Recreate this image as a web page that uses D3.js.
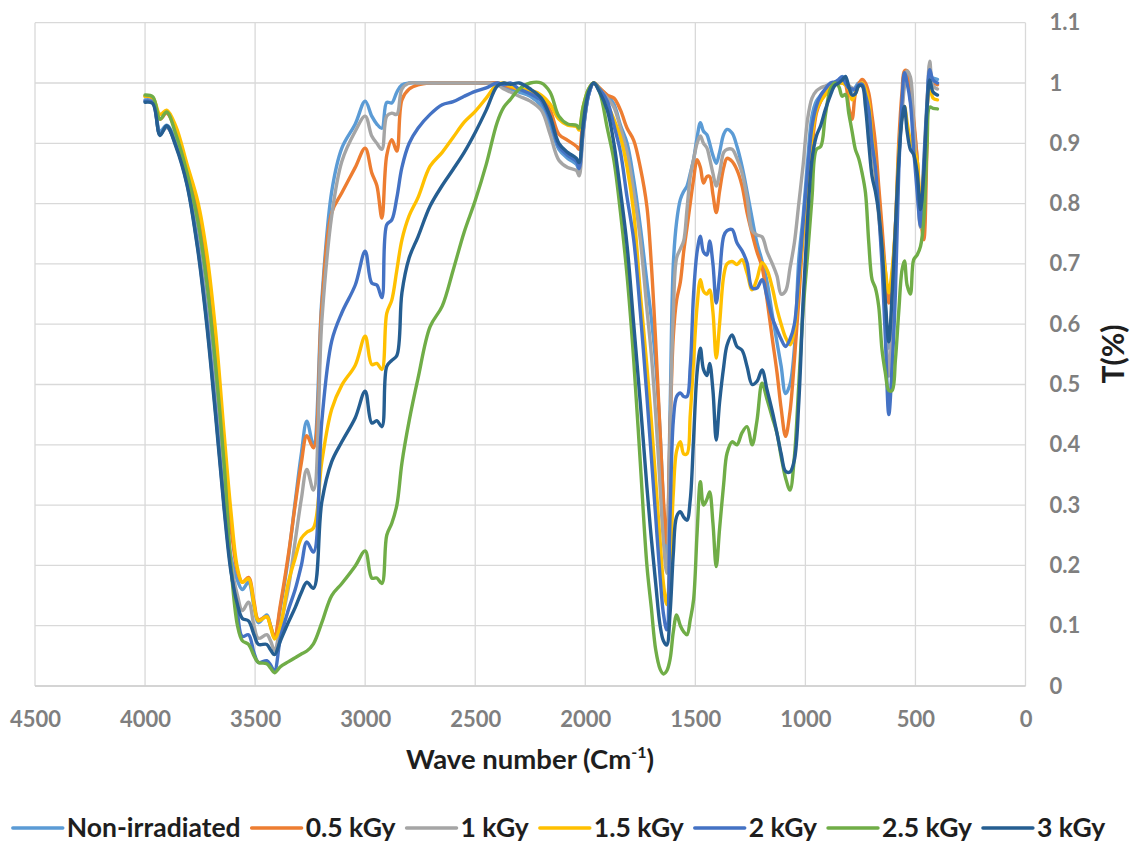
<!DOCTYPE html>
<html>
<head>
<meta charset="utf-8">
<script src="https://cdn.jsdelivr.net/npm/d3@7"></script>
<style>
  body { margin: 0; background: #fff; }
  svg text { font-family: Lato, "Open Sans", sans-serif; font-weight: 700; }
</style>
</head>
<body>
<svg id="chart" width="1130" height="846"></svg>
<script>
const waveNumbers = [
  4000, 3965, 3932, 3902, 3860, 3810, 3760, 3720, 3680, 3640, 3610, 3580, 3558, 3530, 3505,
  3485, 3447, 3430, 3412, 3385, 3350, 3318, 3290, 3265, 3235, 3197, 3152, 3106, 3045, 3000,
  2970, 2947, 2924, 2902, 2879, 2856, 2833, 2800, 2760, 2705, 2650, 2600, 2550, 2500, 2450,
  2400, 2370, 2340, 2300, 2250, 2200, 2160, 2120, 2080, 2040, 2028, 2010, 1985, 1962,
  1935, 1900, 1870, 1840, 1810, 1780, 1750, 1720, 1700, 1680,
  1660, 1645, 1630, 1615, 1600, 1585, 1568, 1553, 1538, 1523,
  1508, 1492, 1477, 1463, 1447, 1435, 1420, 1405, 1390, 1371,
  1356, 1333, 1311, 1288, 1265, 1242, 1220, 1197, 1174, 1150,
  1129, 1110, 1090, 1070, 1050, 1030, 1010, 990, 970, 950,
  930, 910, 886, 866, 848, 833, 818, 803, 788, 773,
  758, 742, 727, 712, 697, 682, 667, 652, 637, 621,
  606, 591, 576, 561, 550, 538, 523, 508, 492, 477,
  462, 447, 435, 420, 400
]

const nonIrradiated = [
  0.972, 0.97, 0.92, 0.93, 0.903, 0.84, 0.742, 0.63, 0.485, 0.321, 0.215, 0.175, 0.16, 0.172, 0.132,
  0.105, 0.118, 0.1, 0.08, 0.13, 0.21, 0.305, 0.385, 0.439, 0.4, 0.64, 0.82, 0.892, 0.932, 0.97,
  0.945, 0.932, 0.925, 0.968, 0.967, 0.985, 0.997, 1, 1, 1, 1, 1, 1, 1, 1,
  1, 0.995, 0.99, 0.985, 0.978, 0.962, 0.93, 0.89, 0.875, 0.865, 0.855, 0.92, 0.98, 1,
  0.99, 0.98, 0.965, 0.93, 0.9, 0.84, 0.762, 0.67, 0.61, 0.535,
  0.42, 0.3, 0.21, 0.45, 0.7, 0.77, 0.807, 0.82, 0.829, 0.85,
  0.873, 0.91, 0.934, 0.92, 0.914, 0.9, 0.88, 0.867, 0.885, 0.915,
  0.923, 0.917, 0.895, 0.862, 0.82, 0.775, 0.735, 0.705, 0.67, 0.615,
  0.57, 0.53, 0.485, 0.5, 0.56, 0.707, 0.78, 0.87, 0.945, 0.97,
  0.98, 0.988, 0.995, 1, 1.005, 1.011, 1.005, 0.995, 0.986, 0.993,
  1, 0.998, 0.98, 0.95, 0.92, 0.87, 0.8, 0.73, 0.63, 0.56,
  0.6, 0.72, 0.873, 0.96, 1, 1.01, 0.972, 0.93, 0.873, 0.78,
  0.8, 0.956, 1.011, 1.008, 1.006
]

const dose05 = [
  0.978, 0.975, 0.94, 0.95, 0.92, 0.857, 0.783, 0.689, 0.555, 0.384, 0.265, 0.19, 0.172, 0.18, 0.14,
  0.11, 0.115, 0.1, 0.082, 0.135, 0.215, 0.3, 0.37, 0.415, 0.395, 0.63, 0.785, 0.818, 0.86, 0.892,
  0.851, 0.83, 0.776, 0.88, 0.906, 0.887, 0.972, 0.99, 0.997, 1, 1, 1, 1, 1, 1,
  1, 0.997, 0.993, 0.99, 0.985, 0.975, 0.955, 0.915, 0.905, 0.895, 0.89, 0.94, 0.985, 1,
  0.992, 0.98, 0.975, 0.955, 0.925, 0.905, 0.86, 0.795, 0.7, 0.57,
  0.42, 0.31, 0.237, 0.42, 0.58, 0.64, 0.67, 0.72, 0.76, 0.801,
  0.84, 0.873, 0.86, 0.834, 0.845, 0.845, 0.815, 0.785, 0.82, 0.86,
  0.875, 0.87, 0.856, 0.83, 0.785, 0.75, 0.72, 0.695, 0.64, 0.575,
  0.52, 0.46, 0.414, 0.455, 0.54, 0.64, 0.75, 0.83, 0.895, 0.95,
  0.97, 0.983, 0.993, 1, 1, 1, 0.997, 0.96, 0.94, 0.983,
  0.998, 1.006, 1, 0.983, 0.945, 0.9, 0.83, 0.762, 0.69, 0.635,
  0.68, 0.762, 0.9, 0.985, 1.02, 1.02, 0.994, 0.94, 0.873, 0.78,
  0.74, 0.9, 1, 1, 0.997
]

const dose1 = [
  0.97, 0.968, 0.915, 0.926, 0.9, 0.837, 0.734, 0.618, 0.471, 0.309, 0.205, 0.15, 0.125, 0.139, 0.1,
  0.079, 0.085, 0.075, 0.059, 0.1, 0.16, 0.24, 0.31, 0.359, 0.325, 0.605, 0.78, 0.87, 0.92, 0.945,
  0.912, 0.9, 0.89, 0.945, 0.95, 0.948, 0.99, 1, 1, 1, 1, 1, 1, 1, 1,
  0.997, 0.99, 0.985, 0.978, 0.97, 0.955, 0.915, 0.872, 0.86, 0.855, 0.846, 0.915, 0.98, 1,
  0.99, 0.975, 0.96, 0.925, 0.885, 0.82, 0.74, 0.625, 0.55, 0.45,
  0.33, 0.24, 0.187, 0.42, 0.62, 0.71, 0.725, 0.738, 0.79, 0.845,
  0.873, 0.9, 0.912, 0.9, 0.892, 0.875, 0.85, 0.829, 0.85, 0.885,
  0.89, 0.89, 0.875, 0.851, 0.81, 0.755, 0.748, 0.745, 0.72, 0.7,
  0.68, 0.65, 0.655, 0.693, 0.735, 0.8, 0.865, 0.94, 0.975, 0.987,
  0.992, 0.995, 0.998, 1, 1, 1, 1, 0.996, 0.992, 0.99,
  0.995, 1, 0.975, 0.939, 0.89, 0.845, 0.78, 0.72, 0.62, 0.514,
  0.6, 0.72, 0.873, 0.95, 0.995, 1.02, 1.01, 0.928, 0.84, 0.76,
  0.8, 0.956, 1.036, 0.995, 0.99
]

const dose15 = [
  0.978, 0.976, 0.948, 0.955, 0.928, 0.866, 0.803, 0.719, 0.59, 0.415, 0.29, 0.195, 0.172, 0.178, 0.135,
  0.108, 0.115, 0.098, 0.078, 0.1, 0.17, 0.212, 0.245, 0.255, 0.262, 0.372, 0.459, 0.499, 0.532, 0.58,
  0.533, 0.535, 0.525, 0.618, 0.64, 0.69, 0.74, 0.78, 0.81, 0.862, 0.885, 0.91, 0.935, 0.953, 0.975,
  0.998, 1, 0.995, 0.99, 0.988, 0.98, 0.965, 0.94, 0.93, 0.928, 0.922, 0.96, 0.99, 1,
  0.99, 0.965, 0.94, 0.91, 0.86, 0.785, 0.652, 0.53, 0.44, 0.34,
  0.24, 0.17, 0.135, 0.2, 0.32, 0.39, 0.405, 0.385, 0.385, 0.45,
  0.54, 0.63, 0.674, 0.655, 0.65, 0.657, 0.62, 0.544, 0.6, 0.68,
  0.7, 0.704, 0.699, 0.707, 0.685, 0.657, 0.675, 0.702, 0.69, 0.66,
  0.625, 0.6, 0.578, 0.566, 0.59, 0.67, 0.755, 0.84, 0.91, 0.955,
  0.97, 0.98, 0.993, 1, 1, 1, 0.997, 0.99, 0.972, 0.982,
  0.995, 1, 0.99, 0.967, 0.91, 0.86, 0.79, 0.73, 0.69, 0.652,
  0.69, 0.762, 0.88, 0.945, 0.961, 0.935, 0.905, 0.892, 0.87, 0.79,
  0.86, 0.96, 0.994, 0.975, 0.972
]

const dose2 = [
  0.97, 0.968, 0.915, 0.928, 0.897, 0.834, 0.726, 0.606, 0.457, 0.296, 0.195, 0.12, 0.082, 0.085, 0.055,
  0.039, 0.042, 0.035, 0.025, 0.08, 0.125, 0.16, 0.2, 0.239, 0.222, 0.439, 0.572, 0.619, 0.665, 0.721,
  0.668, 0.665, 0.644, 0.765, 0.773, 0.81, 0.86, 0.9, 0.925, 0.948, 0.964, 0.969, 0.978, 0.986, 0.992,
  1, 0.997, 1, 0.99, 0.982, 0.97, 0.94, 0.895, 0.88, 0.87, 0.858, 0.92, 0.98, 1,
  0.99, 0.97, 0.93, 0.885, 0.81, 0.74, 0.62, 0.48, 0.38, 0.28,
  0.18, 0.12, 0.093, 0.28, 0.44, 0.48, 0.486, 0.48, 0.48, 0.53,
  0.65, 0.72, 0.746, 0.72, 0.715, 0.738, 0.7, 0.635, 0.68, 0.746,
  0.755, 0.757, 0.735, 0.722, 0.702, 0.66, 0.66, 0.674, 0.645, 0.61,
  0.591, 0.575, 0.563, 0.575, 0.6, 0.68, 0.77, 0.855, 0.928, 0.962,
  0.98, 0.99, 1, 1.002, 1.006, 1.01, 1, 0.992, 0.99, 0.99,
  0.997, 0.998, 0.98, 0.956, 0.9, 0.86, 0.79, 0.7, 0.58, 0.45,
  0.53, 0.652, 0.85, 0.97, 1.017, 1, 0.967, 0.89, 0.818, 0.762,
  0.87, 0.97, 1.022, 1.005, 1
]

const dose25 = [
  0.98, 0.977, 0.94, 0.952, 0.915, 0.852, 0.771, 0.671, 0.534, 0.365, 0.2, 0.1, 0.075, 0.069, 0.05,
  0.039, 0.037, 0.03, 0.022, 0.032, 0.04, 0.047, 0.053, 0.058, 0.07, 0.105, 0.15, 0.17, 0.199, 0.224,
  0.179, 0.179, 0.17, 0.25, 0.27, 0.3, 0.37, 0.44, 0.51, 0.596, 0.63, 0.69, 0.753, 0.805, 0.865,
  0.935, 0.96, 0.973, 0.99, 1, 1, 0.985, 0.945, 0.932, 0.93, 0.925, 0.96, 0.99, 1,
  0.985, 0.925, 0.872, 0.785, 0.68, 0.541, 0.37, 0.2, 0.13, 0.06,
  0.028, 0.02, 0.025, 0.044, 0.09, 0.118, 0.1, 0.09, 0.085, 0.11,
  0.143, 0.254, 0.339, 0.3, 0.31, 0.322, 0.27, 0.198, 0.26, 0.336,
  0.386, 0.405, 0.4, 0.42, 0.43, 0.4, 0.44, 0.502, 0.475, 0.445,
  0.419, 0.38, 0.345, 0.325, 0.38, 0.5, 0.625, 0.715, 0.81, 0.89,
  0.895, 0.945, 0.99, 1, 0.994, 0.978, 0.981, 0.95, 0.92, 0.89,
  0.875, 0.85, 0.818, 0.735, 0.674, 0.66, 0.63, 0.558, 0.52, 0.49,
  0.49, 0.541, 0.62, 0.69, 0.705, 0.665, 0.65, 0.707, 0.715, 0.729,
  0.773, 0.9, 0.96, 0.958, 0.957
]

const dose3 = [
  0.968, 0.966, 0.913, 0.929, 0.895, 0.832, 0.722, 0.6, 0.45, 0.29, 0.19, 0.135, 0.112, 0.108, 0.085,
  0.069, 0.069, 0.06, 0.052, 0.075, 0.105, 0.13, 0.155, 0.172, 0.162, 0.305, 0.372, 0.405, 0.445, 0.489,
  0.436, 0.44, 0.43, 0.53, 0.54, 0.548, 0.652, 0.71, 0.745, 0.796, 0.83, 0.857, 0.885, 0.918, 0.955,
  0.995, 1, 0.998, 1, 0.99, 0.975, 0.945, 0.9, 0.885, 0.875, 0.868, 0.93, 0.985, 1,
  0.985, 0.955, 0.9, 0.82, 0.73, 0.6, 0.47, 0.33, 0.245, 0.17,
  0.1, 0.075, 0.068, 0.12, 0.22, 0.281, 0.289, 0.28, 0.275, 0.309,
  0.41, 0.52, 0.56, 0.525, 0.515, 0.535, 0.49, 0.408, 0.47, 0.53,
  0.565, 0.582, 0.563, 0.557, 0.53, 0.5, 0.505, 0.524, 0.491, 0.455,
  0.419, 0.385, 0.356, 0.355, 0.375, 0.47, 0.64, 0.775, 0.873, 0.912,
  0.93, 0.955, 0.98, 0.996, 1, 1.005, 1.011, 0.994, 0.98, 0.982,
  0.995, 0.995, 0.96, 0.9, 0.845, 0.82, 0.785, 0.729, 0.64, 0.571,
  0.65, 0.762, 0.87, 0.94, 0.961, 0.92, 0.89, 0.881, 0.85, 0.79,
  0.85, 0.96, 1.005, 0.985, 0.98
]

const seriesNames = ['Non-irradiated', '0.5 kGy', '1 kGy', '1.5 kGy', '2 kGy', '2.5 kGy', '3 kGy']
const seriesValues = [nonIrradiated, dose05, dose1, dose15, dose2, dose25, dose3]
const seriesColors = ['#5B9BD5', '#ED7D31', '#A5A5A5', '#FFC000', '#4472C4', '#70AD47', '#255E91']

const xTicks = [4500, 4000, 3500, 3000, 2500, 2000, 1500, 1000, 500, 0]
const yTicks = [0, 0.1, 0.2, 0.3, 0.4, 0.5, 0.6, 0.7, 0.8, 0.9, 1, 1.1]
const yTickLabels = ['0', '0.1', '0.2', '0.3', '0.4', '0.5', '0.6', '0.7', '0.8', '0.9', '1', '1.1']

const plotLeft = 35, plotRight = 1025.5, plotTop = 22.7, plotBottom = 686

const svg = d3.select('#chart')
svg.append('rect').attr('width', 1130).attr('height', 846).attr('fill', '#fff')

const xScale = d3.scaleLinear().domain([4500, 0]).range([plotLeft, plotRight])
const yScale = d3.scaleLinear().domain([0, 1.1]).range([plotBottom, plotTop])

// grid
svg.append('g').selectAll('line').data(yTicks).join('line')
  .attr('x1', plotLeft).attr('x2', plotRight)
  .attr('y1', d => yScale(d)).attr('y2', d => yScale(d))
  .attr('stroke', '#d9d9d9').attr('stroke-width', 1.3)
svg.append('g').selectAll('line').data(xTicks).join('line')
  .attr('x1', d => xScale(d)).attr('x2', d => xScale(d))
  .attr('y1', plotTop).attr('y2', plotBottom)
  .attr('stroke', '#d9d9d9').attr('stroke-width', 1.3)
svg.append('line').attr('x1', plotLeft).attr('x2', plotRight).attr('y1', plotBottom).attr('y2', plotBottom)
  .attr('stroke', '#cfcfcf').attr('stroke-width', 1.6)

const xAxis = d3.axisBottom(xScale).tickValues(xTicks).tickSize(0).tickPadding(25)
  .tickFormat(d3.format('d'))
const yAxis = d3.axisRight(yScale).tickValues(yTicks).tickSize(0).tickPadding(24)
  .tickFormat((d, i) => yTickLabels[i])

const gx = svg.append('g').attr('transform', `translate(0,${plotBottom})`).call(xAxis)
const gy = svg.append('g').attr('transform', `translate(${plotRight},0)`).call(yAxis)
for (const g of [gx, gy]) {
  g.select('.domain').remove()
  g.selectAll('text').attr('fill', '#7f7f7f').style('font-size', '22px')
    .style('font-family', 'Lato, sans-serif').style('font-weight', 700)
}

// series, first drawn at the bottom
const line = d3.line()
  .x(d => xScale(d[0]))
  .y(d => yScale(d[1]))
  .curve(d3.curveCatmullRom.alpha(0.5))

seriesValues.forEach((vals, i) => {
  svg.append('path')
    .datum(waveNumbers.map((w, j) => [w, vals[j]]))
    .attr('d', line)
    .attr('fill', 'none')
    .attr('stroke', seriesColors[i])
    .attr('stroke-width', 3.4)
    .attr('stroke-linejoin', 'round')
    .attr('stroke-linecap', 'round')
})

// axis titles
const xTitle = svg.append('text').attr('x', 530).attr('y', 769)
  .attr('text-anchor', 'middle').attr('fill', '#1e1e1e').style('font-size', '27.5px')
xTitle.append('tspan').text('Wave number (Cm')
xTitle.append('tspan').text('-1').style('font-size', '16px').attr('dy', -11)
xTitle.append('tspan').text(')').attr('dy', 11)

svg.append('text')
  .attr('transform', 'translate(1112,354) rotate(-90)')
  .attr('text-anchor', 'middle').attr('dominant-baseline', 'central')
  .attr('fill', '#1e1e1e').style('font-size', '30px')
  .text('T(%)')

// legend
const legend = svg.append('g')
let lx = 0
seriesNames.forEach((name, i) => {
  const item = legend.append('g').attr('transform', `translate(${lx},0)`)
  item.append('line').attr('x1', 0).attr('x2', 50).attr('y1', 0).attr('y2', 0)
    .attr('stroke', seriesColors[i]).attr('stroke-width', 3.4).attr('stroke-linecap', 'round')
  const t = item.append('text').attr('x', 54).attr('y', 0).attr('dy', '0.35em')
    .attr('fill', '#1e1e1e').style('font-size', '26.5px').text(name)
  lx += 54 + t.node().getComputedTextLength() + 11
})
lx -= 11
legend.attr('transform', `translate(${559 - lx / 2},828)`)
</script>
</body>
</html>
